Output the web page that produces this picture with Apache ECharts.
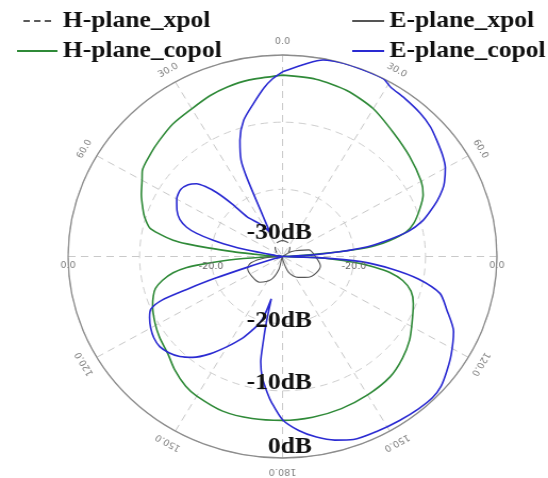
<!DOCTYPE html>
<html>
<head>
<meta charset="utf-8">
<script src="https://cdn.jsdelivr.net/npm/echarts@6/dist/echarts.min.js"></script>
<style>
  html, body { margin: 0; padding: 0; background: #fff; overflow: hidden; }
  /* the pattern plot is slightly wider than tall, so the drawing is stretched horizontally */
  #c { width: 515px; height: 478px; transform: scaleX(1.0641); transform-origin: 0 0; }
</style>
</head>
<body>
<div id="c"></div>
<script>
// angle tick labels, clockwise from the top
const angleTickLabels = ['0.0', '30.0', '60.0', '0.0', '120.0', '150.0', '180.0', '150.0', '120.0', '0.0', '60.0', '30.0'];
const levelLabels = ['-30dB', '-20dB', '-10dB', '0dB'];

// H-plane co-polar (deg, dB)
const hCopolAngle = [0, 10, 20, 30, 40, 50, 60, 65, 70, 75, 78, 81, 83, 84, 85, 86, 88, 90, 92, 93, 95, 97, 99, 102, 106, 111, 119, 125, 132, 140, 150, 160, 170, 180, 190, 200, 210, 215, 222, 228, 235, 241, 248, 252, 255, 258, 261, 263, 264, 266, 268, 270, 272, 274, 275, 276, 277, 278, 279, 281, 283, 287, 290, 295, 300, 303, 310, 315, 322, 330, 337, 343, 350, 360];
const hCopolDb = [-3.0, -3.2, -3.7, -4.6, -5.9, -6.8, -7.6, -8.3, -9.6, -11.0, -12.3, -14.8, -17.0, -19.0, -22.0, -25.5, -29.0, -30, -26.5, -23.5, -19.8, -17.0, -14.8, -12.8, -11.3, -10.4, -9.3, -8.3, -7.4, -6.6, -6.2, -5.9, -5.7, -5.6, -5.5, -5.5, -6.0, -6.4, -7.4, -8.4, -9.0, -9.6, -10.4, -11.0, -11.6, -12.8, -14.5, -16.5, -18.4, -22.5, -27.0, -30, -29.0, -27.5, -26.0, -23.0, -19.5, -16.5, -14.5, -12.5, -10.9, -9.8, -9.2, -8.2, -7.3, -6.6, -6.0, -5.6, -5.0, -4.6, -4.0, -3.6, -3.3, -3.0];

// E-plane co-polar (deg, dB)
const eCopolAngle = [0, 7, 11, 16, 22, 28, 31, 36, 42, 47, 51, 56, 60, 64, 66, 69, 72, 75, 78, 81, 83, 85, 87, 89, 90, 92, 94, 97, 100, 104, 109, 115, 122, 127, 131, 135, 140, 146, 153, 160, 165, 170, 175, 180, 184, 186, 189, 191, 192, 193, 194, 196, 198, 201, 205, 210, 215, 220, 224, 228, 232, 236, 240, 244, 247, 249, 250, 251, 252, 254, 260, 270, 276, 279, 281, 283, 284, 286, 288, 291, 295, 300, 305, 309, 312, 314, 316, 318, 320, 326, 330, 334, 336, 337, 338, 341, 345, 350, 354, 357, 360];
const eCopolDb = [-2.5, -1.0, -0.2, 0, 0, 0, -0.6, -0.9, -1.25, -1.7, -2.3, -3.0, -3.7, -4.8, -5.5, -6.8, -8.3, -9.8, -12.0, -15.5, -18.0, -22.0, -26.0, -29.5, -30, -25.0, -19.0, -14.5, -10.7, -7.3, -5.7, -3.6, -2.2, -1.3, -0.6, -0.3, -0.4, -0.6, -0.8, -1.0, -1.7, -2.7, -4.0, -5.7, -8.2, -9.6, -11.8, -14.0, -17.0, -20.0, -23.5, -21.0, -19.5, -18.3, -16.5, -14.5, -12.3, -10.4, -9.3, -8.6, -8.2, -8.3, -8.7, -9.3, -10.0, -12.0, -16.0, -20.0, -25.0, -29.0, -30, -30, -30, -29.0, -25.0, -21.5, -20.0, -17.5, -15.9, -14.6, -13.7, -12.9, -12.6, -13.0, -13.8, -15.0, -16.8, -19.5, -22.3, -24.0, -25.0, -26.0, -22.0, -17.0, -14.5, -11.7, -9.0, -6.8, -4.8, -3.5, -2.5];

// E-plane cross-polar (deg, dB)
const eXpolAngle = [0, 50, 60, 75, 90, 105, 118, 130, 145, 160, 175, 185, 195, 205, 220, 235, 250, 258, 265, 272, 360];
const eXpolDb = [-30, -30, -28.5, -26.2, -25.4, -24.5, -24.7, -25.2, -26.2, -27.5, -29.5, -30, -28.0, -26.2, -25.0, -24.8, -24.8, -25.5, -27.5, -30, -30];

// H-plane cross-polar (deg, dB)
const hXpolAngle = [0, 20, 40, 60, 80, 100, 140, 180, 220, 260, 280, 300, 320, 340, 360];
const hXpolDb = [-27.6, -27.8, -28.4, -29.2, -30, -30, -30, -30, -30, -30, -30, -29.2, -28.4, -27.8, -27.6];

const toPolar = (angles, dbs) => angles.map((a, i) => [dbs[i], a]);

const serif = '"Liberation Serif", "DejaVu Serif", serif';
const chart = echarts.init(document.getElementById('c'), null, { renderer: 'canvas' });

const legendText = { fontFamily: serif, fontWeight: 'bold', fontSize: 24, color: '#111', lineHeight: 30 };
// legend keys: plain strokes, the cross-polar H-plane one drawn as dashes
const dashIcon = 'path://M0,0H3V1H0Z M5,0H8V1H5Z M10,0H13V1H10Z';

chart.setOption({
  backgroundColor: '#fff',
  animation: false,
  polar: { center: [265.5, 256.5], radius: 201.5 },
  angleAxis: {
    type: 'value', min: 0, max: 360, interval: 30,
    startAngle: 90, clockwise: true,
    axisLine: { lineStyle: { color: '#8c8c8c', width: 1.3 } },
    axisTick: { show: false },
    axisLabel: { show: false },
    splitLine: { show: true, lineStyle: { color: '#c9c9c9', type: [7, 5], width: 1 } }
  },
  radiusAxis: {
    type: 'value', min: -30, max: 0, interval: 10,
    axisLine: { show: false },
    axisTick: { show: false },
    axisLabel: { show: false },
    splitLine: { show: true, lineStyle: { color: '#cfcfcf', type: [7, 5], width: 1 } }
  },
  legend: [
    {
      orient: 'vertical', left: 16, top: 6, padding: 0, itemWidth: 38, itemHeight: 2, itemGap: 0,
      textStyle: legendText,
      data: [{ name: 'H-plane_xpol', icon: dashIcon }, { name: 'H-plane_copol', icon: 'rect' }]
    },
    {
      orient: 'vertical', left: 331, top: 6, padding: 0, itemWidth: 30, itemHeight: 2, itemGap: 0,
      textStyle: legendText,
      data: [{ name: 'E-plane_xpol', icon: 'rect' }, { name: 'E-plane_copol', icon: 'rect' }]
    }
  ],
  series: [
    {
      name: 'H-plane_xpol', type: 'line', coordinateSystem: 'polar',
      showSymbol: false, symbol: 'none', smooth: 0.3,
      lineStyle: { color: '#5a5a5a', width: 1.2, type: [6, 4] }, itemStyle: { color: '#5a5a5a' },
      data: toPolar(hXpolAngle, hXpolDb)
    },
    {
      name: 'H-plane_copol', type: 'line', coordinateSystem: 'polar',
      showSymbol: false, symbol: 'none', smooth: 0.25,
      lineStyle: { color: '#2f8a38', width: 1.6 }, itemStyle: { color: '#2f8a38' },
      data: toPolar(hCopolAngle, hCopolDb)
    },
    {
      name: 'E-plane_xpol', type: 'line', coordinateSystem: 'polar',
      showSymbol: false, symbol: 'none', smooth: 0.3,
      lineStyle: { color: '#555', width: 1.1 }, itemStyle: { color: '#555' },
      data: toPolar(eXpolAngle, eXpolDb)
    },
    {
      name: 'E-plane_copol', type: 'line', coordinateSystem: 'polar',
      showSymbol: false, symbol: 'none', smooth: 0.25,
      lineStyle: { color: '#2a2ad2', width: 1.6 }, itemStyle: { color: '#2a2ad2' },
      data: toPolar(eCopolAngle, eCopolDb)
    }
  ]
});

// angle labels sit just outside the outer ring, turned along the circle
// (the two on the horizontal axis stay level and sit just under the axis)
const elements = [];
angleTickLabels.forEach((txt, i) => {
  const ang = i * 30;
  const side = ang === 90 || ang === 270;
  const p = chart.convertToPixel({ polarIndex: 0 }, [side ? 0 : 2, ang]);
  elements.push({
    type: 'text', x: p[0], y: side ? p[1] + 9 : p[1], rotation: side ? 0 : -ang * Math.PI / 180, z: 10,
    style: { text: txt, fill: '#808080', font: '9px "DejaVu Sans", sans-serif', align: 'center', verticalAlign: 'middle' }
  });
});
// ring value labels on the horizontal axis
[90, 270].forEach(ang => {
  const p = chart.convertToPixel({ polarIndex: 0 }, [-20, ang]);
  elements.push({
    type: 'text', x: p[0], y: p[1] + 10, z: 10,
    style: { text: '-20.0', fill: '#666', font: '9px "DejaVu Sans", sans-serif', align: 'center', verticalAlign: 'middle' }
  });
});
// level annotations
const levelY = [233, 321, 383, 447];
levelLabels.forEach((txt, i) => {
  elements.push({
    type: 'text', x: 293, y: levelY[i], z: 20,
    style: { text: txt, fill: '#111', font: 'bold 24px ' + serif, align: 'right', verticalAlign: 'middle' }
  });
});
chart.setOption({ graphic: { elements } });
</script>
</body>
</html>
